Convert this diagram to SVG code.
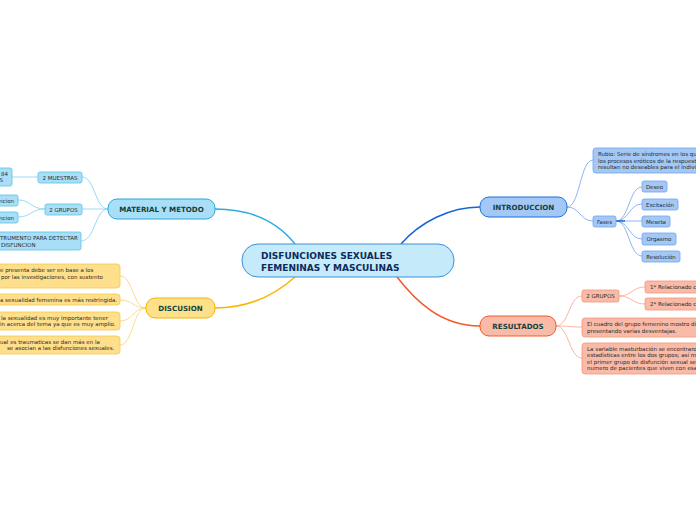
<svg xmlns="http://www.w3.org/2000/svg" width="696" height="520" viewBox="0 0 696 520">
<style>
text{font-family:"DejaVu Sans","Verdana",sans-serif}
.main{font-size:7.1px;font-weight:bold;fill:#16403a;text-anchor:middle}
.sm{font-size:5.5px;fill:#2a2a2a}
.smc{font-size:5.5px;fill:#2a2a2a;text-anchor:middle}
.cy{fill:#a9def7;stroke:#5bc0eb;stroke-width:0.8}
.bl{fill:#a3c8f5;stroke:#6fa3ef;stroke-width:0.8}
.ye{fill:#fedf8c;stroke:#f5c94f;stroke-width:0.8}
.or{fill:#f9bba8;stroke:#f5957a;stroke-width:0.8}
.c{fill:none}
</style>
<rect width="696" height="520" fill="#fff"/>
<g id="connectors" class="c">
<path d="M215,209 C255,209 280,225 295,244" stroke="#29abe2" stroke-width="1.5"/>
<path d="M215,308 C250,308 275,295 295,277" stroke="#f9b500" stroke-width="1.5"/>
<path d="M401,244 C420,222 450,207 480,207" stroke="#1565d8" stroke-width="1.5"/>
<path d="M397,277 C415,300 440,326 480,326" stroke="#f05a28" stroke-width="1.5"/>
<g stroke="#7fd0f0" stroke-width="0.8">
<path d="M108,209 C95,209 95,177 82,177"/>
<path d="M108,209 L82,209"/>
<path d="M108,209 C95,209 95,241 81,241"/>
<path d="M38,177 L12,177"/>
<path d="M45,209 C31,209 31,200 18,200"/>
<path d="M45,209 C31,209 31,217 18,217"/>
</g>
<g stroke="#fbd26a" stroke-width="0.8">
<path d="M146,308 C133,308 133,276 120,276"/>
<path d="M146,308 C133,308 133,300 120,300"/>
<path d="M146,308 C133,308 133,321 120,321"/>
<path d="M146,308 C133,308 133,345 120,345"/>
</g>
<g stroke="#6fa3ef" stroke-width="0.8">
<path d="M567,207 C580,207 580,160 593,160"/>
<path d="M567,207 C580,207 580,221 593,221"/>
<path d="M616,221 C629,221 629,187 642,187"/>
<path d="M616,221 C629,221 629,204 642,204"/>
<path d="M616,221 L642,221"/>
<path d="M616,221 C629,221 629,239 642,239"/>
<path d="M616,221 C629,221 629,256 642,256"/>
<path d="M616,221 L625,221" stroke="#1e6fd9" stroke-width="1.5"/>
</g>
<g stroke="#f7a48a" stroke-width="0.8">
<path d="M556,326 C569,326 569,296 582,296"/>
<path d="M556,326 C569,326 569,327 582,327"/>
<path d="M556,326 C569,326 569,358 582,358"/>
<path d="M619,296 C632,296 632,287 645,287"/>
<path d="M619,296 C632,296 632,304 645,304"/>
</g>
</g>
<g id="center">
<rect x="242" y="244" width="212" height="33" rx="16" fill="#c5ebfb" stroke="#3d8fd8" stroke-width="1"/>
<text x="261" y="259" style="font-size:9px;font-weight:bold;fill:#0d2a5a">DISFUNCIONES SEXUALES</text>
<text x="261" y="270.5" style="font-size:9px;font-weight:bold;fill:#0d2a5a">FEMENINAS Y MASCULINAS</text>
</g>
<g id="material">
<rect x="108" y="199" width="107" height="20" rx="9" fill="#a9def7" stroke="#29a8e0" stroke-width="1"/>
<text class="main" x="161.5" y="211.5">MATERIAL Y METODO</text>
</g>
<g id="muestras">
<rect class="cy" x="38" y="172" width="44" height="11" rx="2"/>
<text class="smc" x="60" y="179.5">2 MUESTRAS</text>
</g>
<g id="muestras-child">
<rect class="cy" x="-10" y="168" width="22" height="18" rx="2"/>
<text class="sm" x="8" y="175.5" text-anchor="end">84</text>
<text class="sm" x="3" y="182" text-anchor="end">S</text>
</g>
<g id="grupos-m">
<rect class="cy" x="45" y="204" width="37" height="11" rx="2"/>
<text class="smc" x="63.5" y="211.5">2 GRUPOS</text>
</g>
<g id="grupos-m1">
<rect class="cy" x="-10" y="195" width="28" height="11" rx="2"/>
<text class="sm" x="14" y="202.5" text-anchor="end">ncion</text>
</g>
<g id="grupos-m2">
<rect class="cy" x="-10" y="212" width="28" height="11" rx="2"/>
<text class="sm" x="14" y="219.5" text-anchor="end">ncion</text>
</g>
<g id="instrumento">
<rect class="cy" x="-10" y="232" width="91" height="18" rx="2"/>
<text class="sm" x="0" y="239.5">TRUMENTO PARA DETECTAR</text>
<text class="sm" x="1" y="246.5">DISFUNCION</text>
</g>
<g id="discusion">
<rect x="146" y="298" width="69" height="20" rx="9" fill="#fde08a" stroke="#f7b500" stroke-width="1"/>
<text class="main" x="180.5" y="310.5">DISCUSION</text>
</g>
<g id="disc1">
<rect class="ye" x="-10" y="264" width="130" height="24" rx="3"/>
<text class="sm" x="0" y="272">e presenta debe ser en base a los</text>
<text class="sm" x="1" y="278.5">por las investigaciones, con sustento</text>
</g>
<g id="disc2">
<rect class="ye" x="-10" y="294" width="130" height="11" rx="3"/>
<text class="sm" x="0" y="301.5">a sexualidad femenina es más restringida.</text>
</g>
<g id="disc3">
<rect class="ye" x="-10" y="312" width="130" height="18" rx="3"/>
<text class="sm" x="1" y="319.5">la sexualidad es muy importante tener</text>
<text class="sm" x="0" y="326">in acerca del tema ya que es muy amplio.</text>
</g>
<g id="disc4">
<rect class="ye" x="-10" y="336" width="130" height="18" rx="3"/>
<text class="sm" x="0" y="343.5">ual es traumaticas se dan más en la</text>
<text class="sm" x="7" y="350">se asocian a las disfunciones sexuales.</text>
</g>
<g id="introduccion">
<rect x="480" y="197" width="87" height="20" rx="9" fill="#a3c8f5" stroke="#1e6fd9" stroke-width="1"/>
<text class="main" x="523.5" y="209.5">INTRODUCCION</text>
</g>
<g id="rubio">
<rect class="bl" x="593" y="148" width="120" height="25" rx="3"/>
<text class="sm" x="598" y="156">Rubio: Serie de síndromes en los que</text>
<text class="sm" x="598" y="162.5">los procesos eróticos de la respuesta</text>
<text class="sm" x="598" y="169">resultan no deseables para el individuo</text>
</g>
<g id="fases">
<rect class="bl" x="593" y="216" width="23" height="11" rx="2"/>
<text class="smc" x="604.5" y="223.5">Fases</text>
</g>
<g id="deseo">
<rect class="bl" x="642" y="181" width="25" height="11" rx="2"/>
<text class="smc" x="654.5" y="188.5">Deseo</text>
</g>
<g id="excitacion">
<rect class="bl" x="642" y="199" width="36" height="11" rx="2"/>
<text class="smc" x="660" y="206.5">Excitación</text>
</g>
<g id="meseta">
<rect class="bl" x="642" y="216" width="28" height="11" rx="2"/>
<text class="smc" x="656" y="223.5">Meseta</text>
</g>
<g id="orgasmo">
<rect class="bl" x="642" y="233" width="34" height="12" rx="2"/>
<text class="smc" x="659" y="241">Orgasmo</text>
</g>
<g id="resolucion">
<rect class="bl" x="642" y="251" width="38" height="11" rx="2"/>
<text class="smc" x="661" y="258.5">Resolución</text>
</g>
<g id="resultados">
<rect x="480" y="316" width="76" height="20" rx="9" fill="#f9bba8" stroke="#f05a28" stroke-width="1"/>
<text class="main" x="518" y="328.5">RESULTADOS</text>
</g>
<g id="grupos-r">
<rect class="or" x="582" y="290" width="37" height="12" rx="2"/>
<text class="smc" x="600.5" y="298">2 GRUPOS</text>
</g>
<g id="rel1">
<rect class="or" x="645" y="281" width="70" height="12" rx="2"/>
<text class="sm" x="650" y="289">1*  Relacionado c</text>
</g>
<g id="rel2">
<rect class="or" x="645" y="298" width="70" height="12" rx="2"/>
<text class="sm" x="650" y="306">2* Relacionado c</text>
</g>
<g id="cuadro">
<rect class="or" x="582" y="318" width="130" height="19" rx="3"/>
<text class="sm" x="587" y="326">El cuadro del grupo femenino mostro di</text>
<text class="sm" x="587" y="332.5">presentando varias desventajas.</text>
</g>
<g id="variable">
<rect class="or" x="582" y="343" width="130" height="31" rx="3"/>
<text class="sm" x="587" y="350.5">La variable masturbación  se encontraro</text>
<text class="sm" x="587" y="357">estadísticas entre los dos grupos; así m</text>
<text class="sm" x="587" y="363.5">el primer grupo de disfunción sexual se</text>
<text class="sm" x="587" y="370">numero de pacientes que viven con esa</text>
</g>
</svg>
